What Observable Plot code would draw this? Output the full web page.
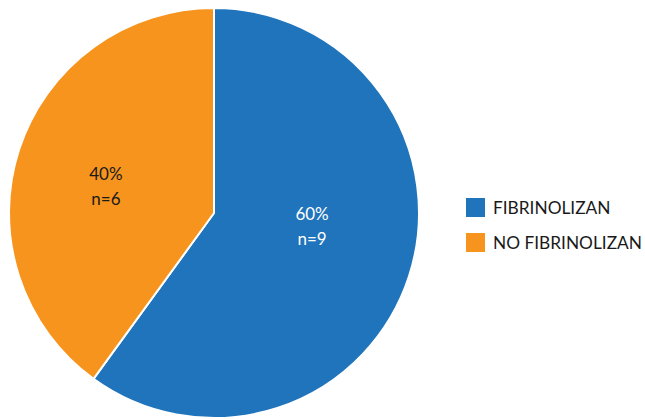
<!DOCTYPE html>
<html>
<head>
<meta charset="utf-8">
<script src="https://cdn.jsdelivr.net/npm/d3@7"></script>
<script src="https://cdn.jsdelivr.net/npm/@observablehq/plot@0.6"></script>
<style>
  html, body { margin: 0; padding: 0; background: #fff; }
  #chart { width: 645px; height: 419px; }
</style>
</head>
<body>
<div id="chart"></div>
<script>
const categories = ["FIBRINOLIZAN", "NO FIBRINOLIZAN"];
const percents = [60, 40];
const counts = [9, 6];
const colors = ["#1f74bb", "#f7941d"];
const labelColors = ["#ffffff", "#1a1a1a"];

const data = categories.map((c, i) => ({category: c, percent: percents[i], n: counts[i]}));

const W = 645, H = 419;
const cx = 214, cy = 213, R = 205;

function pieMark(index, scales, values, dimensions, context) {
  const svg = d3.select(context.document.createElementNS("http://www.w3.org/2000/svg", "g"));
  const pie = d3.pie().sort(null).value(d => d.percent);
  const arcs = pie(data);
  const arc = d3.arc().innerRadius(0).outerRadius(R);
  const g = svg.append("g").attr("transform", `translate(${cx},${cy})`);
  g.selectAll("path").data(arcs).join("path")
    .attr("d", arc)
    .attr("fill", (d, i) => colors[i])
    .attr("stroke", "#fff")
    .attr("stroke-width", 2)
    .attr("stroke-linejoin", "round");
  const lr = 105;
  arcs.forEach((a, i) => {
    const mid = (a.startAngle + a.endAngle) / 2 - 7 * Math.PI / 180;
    const x = lr * Math.sin(mid) - 5, y = -lr * Math.cos(mid) - 9;
    const t = g.append("text")
      .attr("x", x).attr("y", y)
      .style("text-anchor", "middle")
      .style("fill", labelColors[i])
      .style("font-size", "17px");
    t.append("tspan").attr("x", x).attr("dy", "-0.25em").text(`${a.data.percent}%`);
    t.append("tspan").attr("x", x).attr("dy", "1.5em").text(`n=${a.data.n}`);
  });
  const lg = svg.append("g").attr("transform", "translate(466,198)");
  data.forEach((d, i) => {
    lg.append("rect").attr("x", 0).attr("y", i * 35).attr("width", 19).attr("height", 19).attr("fill", colors[i]);
    lg.append("text").attr("x", 27).attr("y", i * 35 + 9.5).attr("dy", "0.36em")
      .style("text-anchor", "start")
      .style("font-size", "17.3px").style("fill", "#1a1a1a").text(d.category);
  });
  return svg.node();
}

const chart = Plot.plot({
  width: W,
  height: H,
  margin: 0,
  style: {fontFamily: "Lato, 'Open Sans', sans-serif", background: "#fff", overflow: "visible"},
  x: {axis: null, domain: [0, 1]},
  y: {axis: null, domain: [0, 1]},
  marks: [pieMark]
});
document.getElementById("chart").appendChild(chart);
</script>
</body>
</html>
